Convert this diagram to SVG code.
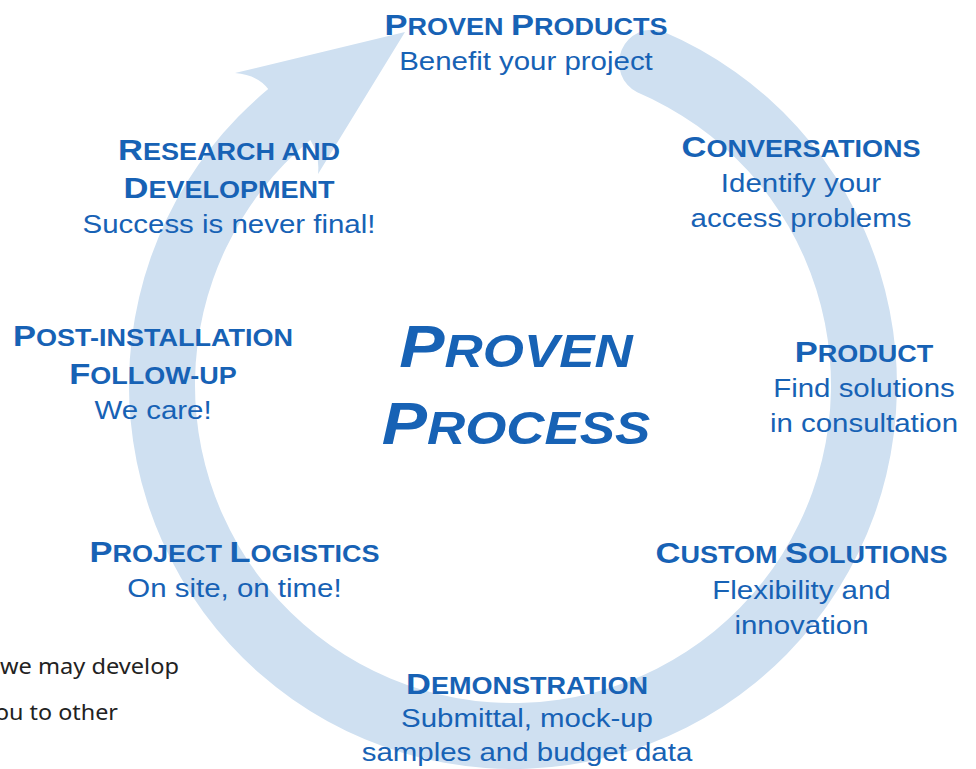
<svg xmlns="http://www.w3.org/2000/svg" width="976" height="769" viewBox="0 0 976 769">
<style>
.ring{fill:#cfe0f1;stroke:none}
.lbl text{font-family:"Liberation Sans",Arial,sans-serif;fill:#1762b5;text-anchor:middle}
.h{font-weight:bold;font-size:23.5px}
.b{font-size:30px}
.t{font-size:25.6px}
.c{font-weight:bold;font-style:italic;font-size:46px}
.cb{font-size:59px}
.g{font-family:"Noto Sans","Open Sans",sans-serif;font-size:22.5px;fill:#222222}
</style>
<rect width="976" height="769" fill="#ffffff"/>
<g id="connectors">
<path class="ring" d="M 663.0 31.5 A 384 384 0 1 1 268.2 89.1 Q 258 75 235 73 L 405 32 L 318 174 Q 320 155 310.3 140 A 318 318 0 1 0 637.2 92.3 A 33.1 33.1 0 0 1 663.0 31.5 Z"/>
</g>
<g id="side-text">
<text class="g" x="0" y="674" textLength="179" lengthAdjust="spacingAndGlyphs">we may develop</text>
<text class="g" x="-5" y="720" textLength="123" lengthAdjust="spacingAndGlyphs">ou to other</text>
</g>
<g id="center" class="lbl" transform="translate(516 0) scale(1.15 1)">
<text class="c" x="0" y="367"><tspan class="cb">P</tspan>ROVEN</text>
<text class="c" x="0" y="444"><tspan class="cb">P</tspan>ROCESS</text>
</g>
<g id="proven-products" class="lbl" transform="translate(526 0) scale(1.15 1)">
<text class="h" x="0" y="35"><tspan class="b">P</tspan>ROVEN <tspan class="b">P</tspan>RODUCTS</text>
<text class="t" x="0" y="70">Benefit your project</text>
</g>
<g id="conversations" class="lbl" transform="translate(801 0) scale(1.15 1)">
<text class="h" x="0" y="157"><tspan class="b">C</tspan>ONVERSATIONS</text>
<text class="t" x="0" y="192">Identify your</text>
<text class="t" x="0" y="227">access problems</text>
</g>
<g id="product" class="lbl" transform="translate(864 0) scale(1.15 1)">
<text class="h" x="0" y="362"><tspan class="b">P</tspan>RODUCT</text>
<text class="t" x="0" y="397">Find solutions</text>
<text class="t" x="0" y="432">in consultation</text>
</g>
<g id="custom-solutions" class="lbl" transform="translate(801.5 0) scale(1.15 1)">
<text class="h" x="0" y="563"><tspan class="b">C</tspan>USTOM <tspan class="b">S</tspan>OLUTIONS</text>
<text class="t" x="0" y="599">Flexibility and</text>
<text class="t" x="0" y="634">innovation</text>
</g>
<g id="demonstration" class="lbl" transform="translate(527 0) scale(1.15 1)">
<text class="h" x="0" y="694"><tspan class="b">D</tspan>EMONSTRATION</text>
<text class="t" x="0" y="727">Submittal, mock-up</text>
<text class="t" x="0" y="761">samples and budget data</text>
</g>
<g id="project-logistics" class="lbl" transform="translate(234.5 0) scale(1.15 1)">
<text class="h" x="0" y="562"><tspan class="b">P</tspan>ROJECT <tspan class="b">L</tspan>OGISTICS</text>
<text class="t" x="0" y="597">On site, on time!</text>
</g>
<g id="post-installation" class="lbl" transform="translate(153 0) scale(1.15 1)">
<text class="h" x="0" y="346"><tspan class="b">P</tspan>OST-INSTALLATION</text>
<text class="h" x="0" y="384"><tspan class="b">F</tspan>OLLOW-UP</text>
<text class="t" x="0" y="419">We care!</text>
</g>
<g id="research" class="lbl" transform="translate(229 0) scale(1.15 1)">
<text class="h" x="0" y="160"><tspan class="b">R</tspan>ESEARCH AND</text>
<text class="h" x="0" y="198"><tspan class="b">D</tspan>EVELOPMENT</text>
<text class="t" x="0" y="233">Success is never final!</text>
</g>
</svg>
